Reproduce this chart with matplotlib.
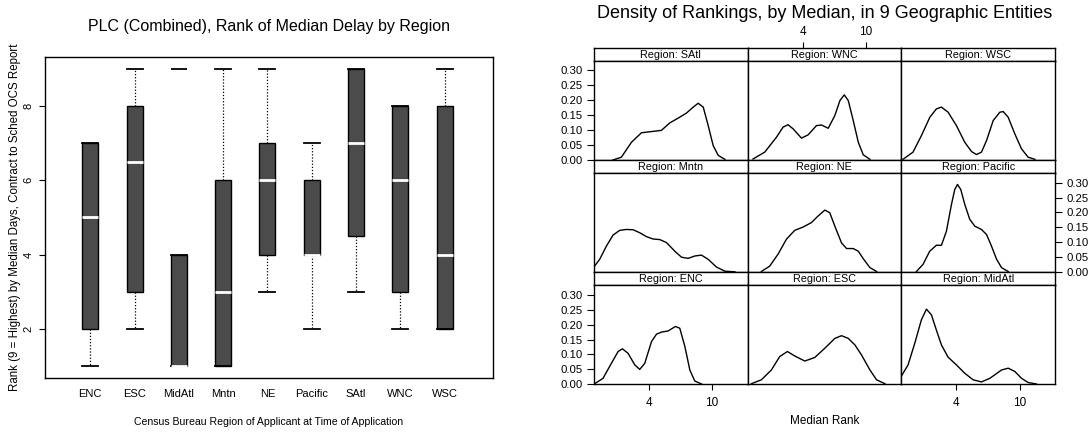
import matplotlib
matplotlib.use("Agg")
import matplotlib.pyplot as plt

plt.rcParams['font.family'] = ['Liberation Sans', 'DejaVu Sans']

# --- boxplot summary per region (rank 9 = highest)
regions = ["ENC", "ESC", "MidAtl", "Mntn", "NE", "Pacific", "SAtl", "WNC", "WSC"]
whis_lo = [1, 2, 1, 1, 3, 2, 3, 2, 2]
q1 = [2, 3, 1, 1, 4, 4, 4.5, 3, 2]
median = [5, 6.5, 1, 3, 6, 4, 7, 6, 4]
q3 = [7, 8, 4, 6, 7, 6, 9, 8, 8]
whis_hi = [7, 9, 4, 9, 9, 7, 9, 8, 9]
outliers = [[], [], [9], [], [], [], [], [], []]

# --- density curves of median rank, one per region
satl_x = [0.62, 1.41, 2.36, 3.31, 4.26, 5.20, 5.99, 6.78, 7.57, 8.21, 8.68, 9.16, 9.63, 10.10, 10.58, 11.21]
satl_y = [0.0, 0.009, 0.059, 0.091, 0.095, 0.099, 0.124, 0.140, 0.157, 0.177, 0.190, 0.177, 0.115, 0.048, 0.015, 0.002]
wnc_x = [-0.69, 0.42, 1.53, 2.16, 2.63, 3.11, 3.90, 4.53, 5.32, 5.80, 6.43, 7.06, 7.54, 7.95, 8.33, 8.80, 9.28, 9.75, 10.38]
wnc_y = [0.003, 0.026, 0.076, 0.110, 0.118, 0.104, 0.073, 0.084, 0.115, 0.117, 0.106, 0.149, 0.199, 0.218, 0.199, 0.132, 0.059, 0.017, 0.002]
wsc_x = [-1.05, -0.10, 0.70, 1.49, 2.11, 2.59, 3.22, 4.01, 4.80, 5.44, 5.91, 6.38, 6.86, 7.49, 8.12, 8.44, 8.91, 9.54, 10.17, 10.80, 11.44]
wsc_y = [0.002, 0.026, 0.082, 0.143, 0.171, 0.177, 0.160, 0.115, 0.059, 0.028, 0.018, 0.026, 0.065, 0.132, 0.160, 0.162, 0.143, 0.087, 0.037, 0.009, 0.002]
mntn_x = [-1.3, -0.64, -0.01, 0.62, 1.25, 1.89, 2.52, 3.15, 3.78, 4.41, 5.05, 5.68, 6.47, 7.10, 7.73, 8.36, 8.99, 9.62, 10.41, 11.21, 12.16]
mntn_y = [0.012, 0.043, 0.087, 0.124, 0.140, 0.143, 0.142, 0.132, 0.119, 0.111, 0.109, 0.099, 0.070, 0.050, 0.046, 0.054, 0.057, 0.043, 0.017, 0.003, 0.001]
ne_x = [0.10, 0.89, 1.68, 2.47, 3.26, 4.05, 4.84, 5.47, 6.11, 6.58, 7.06, 7.69, 8.17, 8.80, 9.28, 9.75, 10.38, 11.01]
ne_y = [0.002, 0.020, 0.060, 0.110, 0.140, 0.151, 0.166, 0.188, 0.208, 0.199, 0.154, 0.098, 0.079, 0.079, 0.070, 0.045, 0.015, 0.002]
pacific_x = [0.22, 0.85, 1.48, 2.11, 2.59, 3.06, 3.54, 3.85, 4.11, 4.42, 4.80, 5.27, 5.75, 6.38, 6.86, 7.33, 7.81, 8.28, 8.91]
pacific_y = [0.002, 0.026, 0.070, 0.090, 0.090, 0.137, 0.227, 0.277, 0.294, 0.277, 0.227, 0.177, 0.154, 0.143, 0.126, 0.087, 0.043, 0.015, 0.002]
enc_x = [-1.12, -0.33, 0.46, 1.10, 1.51, 2.04, 2.68, 3.15, 3.62, 4.26, 4.73, 5.20, 5.84, 6.53, 6.94, 7.42, 7.89, 8.36, 9.00]
enc_y = [0.002, 0.020, 0.070, 0.110, 0.119, 0.104, 0.065, 0.050, 0.070, 0.143, 0.168, 0.175, 0.179, 0.194, 0.188, 0.127, 0.048, 0.011, 0.001]
esc_x = [-0.84, 0.10, 1.05, 1.84, 2.57, 3.26, 4.21, 5.16, 6.11, 7.06, 7.69, 8.33, 8.96, 9.59, 10.38, 11.01, 11.80]
esc_y = [0.002, 0.015, 0.048, 0.093, 0.110, 0.095, 0.078, 0.090, 0.121, 0.154, 0.163, 0.154, 0.132, 0.098, 0.048, 0.015, 0.002]
midatl_x = [-1.30, -0.57, 0.06, 0.69, 1.17, 1.64, 2.11, 2.59, 3.22, 4.01, 4.80, 5.59, 6.38, 7.17, 8.28, 8.91, 9.54, 10.17, 10.80, 11.59]
midatl_y = [0.022, 0.065, 0.137, 0.216, 0.252, 0.233, 0.182, 0.132, 0.091, 0.065, 0.037, 0.015, 0.008, 0.020, 0.048, 0.054, 0.043, 0.020, 0.006, 0.001]

# lattice panel order: top row first
panels = [("SAtl", satl_x, satl_y), ("WNC", wnc_x, wnc_y), ("WSC", wsc_x, wsc_y),
          ("Mntn", mntn_x, mntn_y), ("NE", ne_x, ne_y), ("Pacific", pacific_x, pacific_y),
          ("ENC", enc_x, enc_y), ("ESC", esc_x, esc_y), ("MidAtl", midatl_x, midatl_y)]

W, H = 1091, 432
fig = plt.figure(figsize=(W / 100, H / 100), dpi=100)


def box(x, y, w, h):
    # pixel rectangle (from top-left) -> figure fraction
    return [x / W, 1 - (y + h) / H, w / W, h / H]


# ---------------- left: boxplot ----------------
ax = fig.add_axes(box(44.6, 56.7, 447.9, 321.6))
stats = []
for i in range(len(regions)):
    stats.append(dict(label=regions[i], whislo=whis_lo[i], q1=q1[i], med=median[i],
                      q3=q3[i], whishi=whis_hi[i], fliers=outliers[i]))
ax.bxp(stats, widths=0.36, capwidths=0.36, patch_artist=True,
       boxprops=dict(facecolor="#4b4b4b", edgecolor="black", linewidth=1),
       medianprops=dict(color="white", linewidth=2),
       whiskerprops=dict(color="black", linestyle=(0, (1, 1.5)), linewidth=0.9),
       capprops=dict(color="black", linewidth=1.3),
       flierprops=dict(marker="_", markersize=11.5, markeredgecolor="black", markeredgewidth=1.3))
ax.set_xlim(-0.03, 10.08)
ax.set_ylim(0.68, 9.32)
ax.set_yticks([2, 4, 6, 8])
ax.tick_params(axis="y", direction="out", length=4, width=0.8, labelsize=8, pad=4)
for t in ax.get_yticklabels():
    t.set_rotation(90)
    t.set_va("center")
ax.tick_params(axis="x", length=0, pad=8, labelsize=8)
for s in ax.spines.values():
    s.set_linewidth(1)

fig.text(268.5 / W, 1 - 27 / H, "PLC (Combined), Rank of Median Delay by Region",
         ha="center", va="center", fontsize=11.5)
fig.text(15.5 / W, 1 - 217 / H, "Rank (9 = Highest) by Median Days, Contract to Sched OCS Report",
         ha="center", va="center", rotation=90, fontsize=8.3)
fig.text(268.5 / W, 1 - 422 / H, "Census Bureau Region of Applicant at Time of Application",
         ha="center", va="center", fontsize=7.6)

# ---------------- right: lattice-style density panels ----------------
x0, y0 = 593.7, 47.7
cw, rh, sh = 153.8, 112.2, 13.2
xlim = (-1.21, 13.35)
ylim = (0, 0.332)
dens_ticks = [0, 0.05, 0.10, 0.15, 0.20, 0.25, 0.30]

for k, (name, xs, ys) in enumerate(panels):
    r, c = divmod(k, 3)
    left = x0 + c * cw
    top = y0 + r * rh
    # strip
    st = fig.add_axes(box(left, top, cw, sh))
    st.set_xlim(xlim)
    st.set_xticks([])
    st.set_yticks([])
    st.text(0.5, 0.45, "Region: " + name, transform=st.transAxes,
            ha="center", va="center", fontsize=7.8)
    # panel
    pa = fig.add_axes(box(left, top + sh, cw, rh - sh))
    pa.plot(xs, ys, color="black", linewidth=1, solid_joinstyle="round")
    pa.set_xlim(xlim)
    pa.set_ylim(ylim)
    pa.set_xticks([])
    pa.set_yticks([])
    for a in (st, pa):
        for s in a.spines.values():
            s.set_linewidth(1)

    if c == 0 and r != 1:
        pa.set_yticks(dens_ticks)
        pa.set_yticklabels(["%.2f" % v for v in dens_ticks])
        pa.tick_params(axis="y", left=True, direction="out", length=5, width=0.8,
                       labelsize=8.2, pad=3)
    if c == 2 and r == 1:
        pa.yaxis.tick_right()
        pa.set_yticks(dens_ticks)
        pa.set_yticklabels(["%.2f" % v for v in dens_ticks])
        pa.tick_params(axis="y", right=True, direction="out", length=5, width=0.8,
                       labelsize=8.2, pad=3)
    if r == 2 and c != 1:
        pa.set_xticks([4, 10])
        pa.tick_params(axis="x", bottom=True, direction="out", length=4, width=0.8,
                       labelsize=8.5, pad=5)
    if r == 0 and c == 1:
        st.xaxis.tick_top()
        st.set_xticks([4, 10])
        st.tick_params(axis="x", top=True, direction="out", length=4, width=0.8,
                       labelsize=8.5, pad=3)

fig.text((x0 + 1.5 * cw) / W, 1 - 13.5 / H,
         "Density of Rankings, by Median, in 9 Geographic Entities",
         ha="center", va="center", fontsize=13)
fig.text((x0 + 1.5 * cw) / W, 1 - 421 / H, "Median Rank",
         ha="center", va="center", fontsize=8.5)

fig.savefig("out.png", dpi=100)
